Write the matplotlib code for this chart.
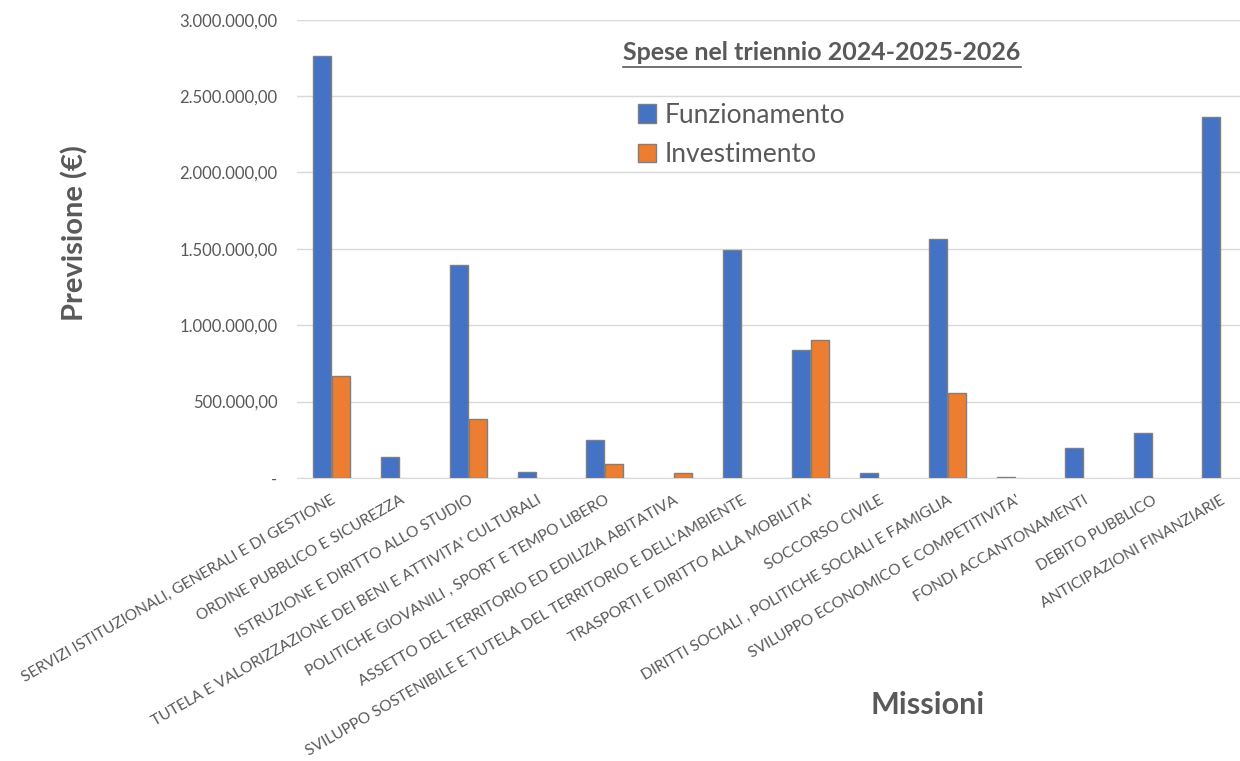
import matplotlib.pyplot as plt
import numpy as np
from matplotlib.lines import Line2D
from matplotlib.ticker import FuncFormatter

plt.rcParams['font.family'] = ['Lato', 'DejaVu Sans']

# Dati
missioni = [
    "SERVIZI ISTITUZIONALI, GENERALI E DI GESTIONE",
    "ORDINE PUBBLICO E SICUREZZA",
    "ISTRUZIONE E DIRITTO ALLO STUDIO",
    "TUTELA E VALORIZZAZIONE DEI BENI E ATTIVITA' CULTURALI",
    "POLITICHE GIOVANILI , SPORT E TEMPO LIBERO",
    "ASSETTO DEL TERRITORIO ED EDILIZIA ABITATIVA",
    "SVILUPPO SOSTENIBILE E TUTELA DEL TERRITORIO E DELL'AMBIENTE",
    "TRASPORTI E DIRITTO ALLA MOBILITA'",
    "SOCCORSO CIVILE",
    "DIRITTI SOCIALI , POLITICHE SOCIALI E FAMIGLIA",
    "SVILUPPO ECONOMICO E COMPETITIVITA'",
    "FONDI ACCANTONAMENTI",
    "DEBITO PUBBLICO",
    "ANTICIPAZIONI FINANZIARIE",
]
funzionamento = [2765000, 137000, 1395000, 41000, 249000, 0, 1492000,
                 840000, 31000, 1566000, 8000, 196000, 295000, 2365000]
investimento = [668000, 0, 386000, 0, 92000, 31000, 0,
                905000, 0, 557000, 0, 0, 0, 0]

blu = '#4472C4'
arancio = '#ED7D31'
grigio = '#595959'

fig = plt.figure(figsize=(12.4, 7.61), dpi=100)
# l'area del grafico prosegue oltre il bordo destro (immagine ritagliata)
ax = fig.add_axes([0.2395, 0.372, 0.7726, 0.602])

x = np.arange(len(missioni))
w = 0.263
f = np.array(funzionamento, dtype=float)
inv = np.array(investimento, dtype=float)
ax.bar(x[f > 0] - w / 2 - 0.008, f[f > 0], w, color=blu, edgecolor='#7f7f7f',
       linewidth=1, zorder=3)
ax.bar(x[inv > 0] + w / 2 + 0.008, inv[inv > 0], w, color=arancio, edgecolor='#7f7f7f',
       linewidth=1, zorder=3)

ax.set_xlim(-0.5, len(missioni) - 0.5)
ax.set_ylim(0, 3000000)
ax.set_yticks(np.arange(0, 3000001, 500000))


def formato_it(v, pos):
    if v == 0:
        return '-'
    s = f"{v:,.2f}"
    return s.replace(',', 'X').replace('.', ',').replace('X', '.')


ax.yaxis.set_major_formatter(FuncFormatter(formato_it))
ax.grid(axis='y', color='#d9d9d9', linewidth=1, zorder=0)
for s in ['top', 'right', 'left']:
    ax.spines[s].set_visible(False)
ax.spines['bottom'].set_color('#d9d9d9')
ax.tick_params(axis='both', length=0, colors=grigio)
ax.tick_params(axis='y', labelsize=12, pad=14)

ax.set_xticks(x)
ax.set_xticklabels(missioni, rotation=30, ha='right', va='top', rotation_mode='anchor',
                   fontsize=11.2, color=grigio)
ax.tick_params(axis='x', pad=11)

fig.text(75 / 1240, 1 - 233 / 761, 'Previsione (€)', rotation=90, fontsize=21,
         fontweight='bold', color=grigio, ha='center', va='center')
fig.text(928 / 1240, 1 - 705 / 761, 'Missioni', fontsize=22,
         fontweight='bold', color=grigio, ha='center', va='center')

titolo = fig.text(822 / 1240, 1 - 53 / 761, 'Spese nel triennio 2024-2025-2026',
                  fontsize=18, fontweight='bold', color=grigio, ha='center', va='center')

handles = [plt.Rectangle((0, 0), 1, 1, facecolor=blu, edgecolor='#7f7f7f'),
           plt.Rectangle((0, 0), 1, 1, facecolor=arancio, edgecolor='#7f7f7f')]
fig.legend(handles, ['Funzionamento', 'Investimento'], loc='upper left',
           bbox_to_anchor=(614 / 1240, 1 - 79 / 761), frameon=False, fontsize=19,
           handlelength=0.7, handleheight=0.7, handletextpad=0.3, labelspacing=0.55,
           labelcolor=grigio)

# sottolineatura del titolo
fig.canvas.draw()
bb = titolo.get_window_extent().transformed(fig.transFigure.inverted())
fig.add_artist(Line2D([bb.x0, bb.x1], [bb.y0 - 0.003, bb.y0 - 0.003],
                      transform=fig.transFigure, color=grigio, linewidth=1.2))

fig.savefig('out.png', dpi=100)
